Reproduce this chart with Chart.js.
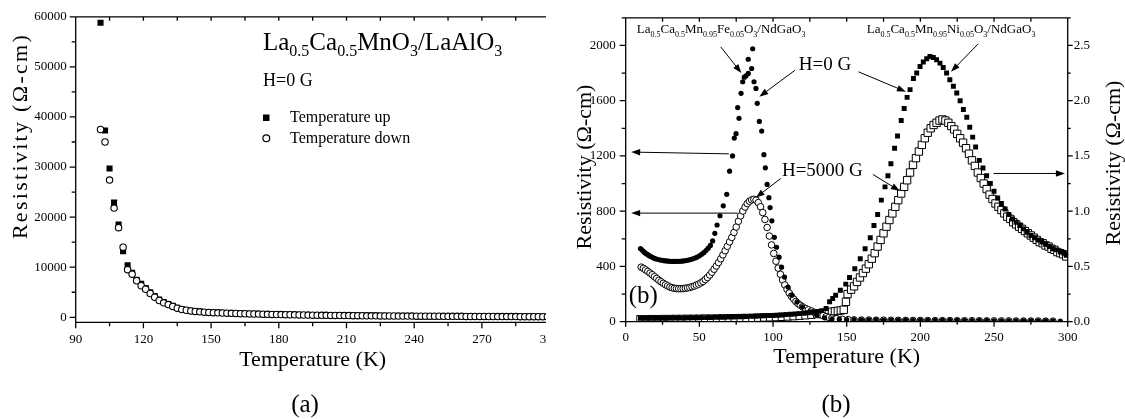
<!DOCTYPE html>
<html>
<head>
<meta charset="utf-8">
<script src="https://cdn.jsdelivr.net/npm/chart.js@4.4.0/dist/chart.umd.min.js"></script>
<style>
  body { margin: 0; background: #fff; width: 1125px; height: 419px; overflow: hidden; position: relative; }
  #wrapA { position: absolute; left: 0; top: 0; width: 546px; height: 419px; overflow: hidden; }
  #wrapB { position: absolute; left: 547px; top: 0; width: 578px; height: 419px; }
  canvas { display: block; }
</style>
</head>
<body>
<div id="wrapA"><canvas id="chartA" width="600" height="419"></canvas></div>
<div id="wrapB"><canvas id="chartB" width="578" height="419"></canvas></div>
<script>
// ---------- (a) La0.5Ca0.5MnO3 / LaAlO3, H = 0 ----------
const tempA = [
  101, 103, 105, 107, 109, 111, 113, 115, 117, 119,
  121, 123, 125, 127, 129, 131, 133, 135, 137, 139,
  141, 143, 145, 147, 149, 151, 153, 155, 157, 159,
  161, 163, 165, 167, 169, 171, 173, 175, 177, 179,
  181, 183, 185, 187, 189, 191, 193, 195, 197, 199,
  201, 203, 205, 207, 209, 211, 213, 215, 217, 219,
  221, 223, 225, 227, 229, 231, 233, 235, 237, 239,
  241, 243, 245, 247, 249, 251, 253, 255, 257, 259,
  261, 263, 265, 267, 269, 271, 273, 275, 277, 279,
  281, 283, 285, 287, 289, 291, 293, 295, 297, 299
];
const rhoUp = [
  58800, 37300, 29700, 22900, 18500, 13200, 10400, 8900, 7500, 6700,
  5850, 5000, 4250, 3550, 3050, 2650, 2280, 1920, 1640, 1470,
  1320, 1220, 1130, 1060, 1000, 955, 915, 880, 845, 810,
  780, 750, 722, 697, 675, 655, 634, 614, 594, 574,
  554, 535, 518, 502, 487, 472, 457, 442, 427, 412,
  401, 391, 380, 370, 360, 350, 340, 330, 320, 310,
  302, 294, 286, 279, 272, 266, 260, 254, 248, 242,
  237, 232, 227, 222, 217, 212, 208, 203, 199, 195,
  190, 186, 182, 178, 174, 170, 165, 161, 157, 153,
  149, 145, 141, 137, 133, 129, 125, 121, 118, 114
];
const rhoDown = [
  37500, 35000, 27400, 21800, 17900, 14000, 9500, 8600, 7300, 6300,
  5600, 4750, 4000, 3350, 2880, 2530, 2170, 1820, 1560, 1410,
  1270, 1180, 1100, 1030, 970, 930, 895, 860, 825, 790,
  760, 730, 705, 680, 660, 640, 620, 600, 580, 560,
  540, 520, 505, 490, 475, 460, 445, 430, 415, 400,
  390, 380, 370, 360, 350, 340, 330, 320, 310, 300,
  292, 285, 277, 270, 264, 258, 252, 246, 240, 235,
  230, 225, 220, 215, 210, 205, 200, 196, 192, 188,
  184, 180, 176, 172, 168, 164, 160, 156, 152, 148,
  144, 140, 136, 132, 128, 124, 120, 117, 114, 110
];
const xTicksA = [90, 120, 150, 180, 210, 240, 270, 300];
const xMinorA = [105, 135, 165, 195, 225, 255, 285];
const yTicksA = [0, 10000, 20000, 30000, 40000, 50000, 60000];
const yMinorA = [5000, 15000, 25000, 35000, 45000, 55000];

// ---------- (b) Fe- and Ni-doped films on NdGaO3 ----------
// Fe-doped, left axis (Ω-cm)
const feT0 = [
  10, 11, 12, 13, 14, 15, 16, 17, 18, 19, 20,
  21.5, 23, 24.5, 26, 27.5, 29, 30.5, 32, 33.5, 35, 36.5, 38, 39.5, 41, 42.5, 44, 45.5, 47, 48.5, 50, 51.5, 53, 54.5, 56, 57.5, 59,
  60.5, 62, 64, 66.2, 68.6, 70.5, 72.5,
  73.7, 74.9, 76, 76.9, 78.3, 79.4, 80.5, 81.7, 83.2, 83.2,
  85.5, 86.2, 87.1, 88.4, 89.3, 90.7, 92.3,
  93.8, 94.8, 96, 97.2, 98, 99.2, 100.9, 102.4, 104.1, 105.8,
  107.8, 110.2, 112.7, 116.3, 120, 124.9, 129.8, 135,
  140, 145, 150, 155, 160, 165, 170, 175, 180, 185, 190, 195, 200, 205, 210, 215,
  220, 225, 230, 235, 240, 245, 250, 255, 260, 265, 270, 275, 280, 285, 290, 295
];
const feRho0 = [
  530, 520, 510, 500, 492, 485, 478, 472, 466, 461, 456,
  452, 448, 445, 442, 440, 438, 437, 436, 436, 437, 437, 438, 440, 443, 446, 450, 455, 461, 468, 477, 488, 500, 515, 532, 552, 585,
  640, 700, 767, 839, 922, 1090, 1200,
  1329, 1361, 1550, 1473, 1653, 1737, 1770, 1780, 1797, 1900,
  1833, 1976, 1737, 1689, 1581, 1450, 1380,
  1209, 1114, 994, 898, 826, 730, 611, 539, 467, 395,
  323, 251, 192, 144, 108, 72, 48, 28,
  21, 18, 16, 15, 14, 13, 13, 12, 12, 11, 11, 10, 10, 10, 9, 9,
  9, 9, 8, 8, 8, 8, 7, 7, 7, 7, 6, 6, 6, 6, 5, 5
];
const feT5 = [
  10.5, 12, 13.5, 15, 16.5, 18, 19.5, 21, 22.5, 24, 25.5, 27, 28.5, 30, 31.5, 33, 34.5, 36, 37.5, 39,
  40.5, 42, 43.5, 45, 46.5, 48, 49.5, 51, 52.5, 54, 55.5, 57, 58.5, 60, 61.5, 63, 64.5, 66, 67.5, 69,
  70.5, 72, 73.5, 75, 76.5, 78, 79.5, 81, 82.5, 84, 85.5, 87, 88.5, 90, 91.5, 93, 94.5, 96, 97.5, 99,
  100.5, 102, 103.5, 105, 106.5, 108, 109.5, 111, 112.5, 114, 115.5, 117, 118.5, 120,
  122, 124, 126, 128, 130, 132, 134, 136, 138, 140, 143, 147, 151,
  155, 160, 165, 170, 175, 180, 185, 190, 195, 200, 205, 210, 215, 220,
  225, 230, 235, 240, 245, 250, 255, 260, 265, 270, 275, 280, 285, 290
];
const feRho5 = [
  395, 386, 375, 364, 352, 340, 326, 313, 300, 289, 278, 268, 259, 251, 246, 242, 240, 239, 239, 240,
  242, 245, 248, 253, 258, 265, 272, 281, 291, 305, 320, 338, 358, 380, 403, 428, 455, 484, 514, 546,
  578, 610, 646, 685, 727, 766, 801, 830, 855, 872, 882, 886, 880, 862, 832, 790, 740, 682, 620, 556,
  494, 438, 388, 343, 302, 266, 235, 208, 184, 164, 146, 131, 119, 108,
  96, 86, 77, 68, 60, 52, 44, 37, 31, 26, 21, 17, 15,
  13, 12, 12, 11, 11, 10, 10, 9, 9, 9, 8, 8, 8, 8,
  7, 7, 7, 7, 6, 6, 6, 6, 5, 5, 5, 5, 4, 4
];
// Ni-doped, right axis (Ω-cm)
const niT0 = [
  10, 13, 16, 19, 22, 25, 28, 31, 34, 37, 40, 43, 46, 49, 52, 55, 58, 61, 64, 67, 70, 73,
  76, 79, 82, 85, 88, 91, 94, 97, 100, 103, 106, 109, 112, 115, 118, 121, 124, 127, 130, 133, 136,
  138.4, 140.5, 142.5, 145.7, 149.4, 151.9, 155.5, 159.2, 162.5, 166,
  168.5, 171, 173.5, 176, 178, 180, 182.5, 184.5, 187, 189,
  191, 193, 195.3, 197.5, 199.8, 202, 204.3, 206.5, 208.8, 211,
  213.3, 215.5, 217.8, 220, 222.4, 224.7, 227, 229.2, 231.5, 233.5,
  235.5, 237.5, 240, 242.5, 245, 247.5, 250, 252.5, 255, 257.5,
  260, 262.5, 265, 267.5, 270, 272.5, 275, 277.5, 280, 282.5,
  285, 287.5, 290, 292.5, 295, 297.5, 299
];
const niRho0 = [
  0.030, 0.030, 0.031, 0.031, 0.031, 0.032, 0.032, 0.033, 0.033, 0.034, 0.034, 0.035, 0.035, 0.036, 0.037, 0.037, 0.038, 0.039, 0.040, 0.041, 0.042, 0.043,
  0.044, 0.045, 0.047, 0.048, 0.050, 0.051, 0.053, 0.055, 0.057, 0.059, 0.061, 0.064, 0.067, 0.070, 0.073, 0.077, 0.081, 0.086, 0.092, 0.100, 0.120,
  0.18, 0.21, 0.24, 0.285, 0.34, 0.40, 0.48, 0.57, 0.66, 0.76,
  0.87, 0.97, 1.10, 1.22, 1.32, 1.43, 1.57, 1.68, 1.82, 1.93,
  2.03, 2.10, 2.20, 2.25, 2.31, 2.35, 2.38, 2.40, 2.39, 2.37,
  2.34, 2.30, 2.25, 2.19, 2.13, 2.07, 2.00, 1.92, 1.85, 1.76,
  1.67, 1.58, 1.46, 1.39, 1.32, 1.25, 1.18, 1.12, 1.07, 1.02,
  0.97, 0.93, 0.90, 0.87, 0.84, 0.81, 0.78, 0.76, 0.74, 0.72,
  0.70, 0.68, 0.66, 0.65, 0.63, 0.62, 0.60
];
const niT5 = [
  10, 14, 18, 22, 26, 30, 34, 38, 42, 46, 50, 54, 58, 62, 66, 70, 74, 78, 82, 86,
  90, 94, 98, 102, 106, 110, 114, 118, 122, 126, 130,
  133, 136, 138, 140, 142, 144, 146, 148, 149.5, 150.6,
  153, 155, 157, 159, 161, 163, 165, 167, 169, 171,
  173, 175, 177, 179, 181, 183, 185, 187, 189, 191,
  193, 195, 197, 199, 201, 203, 205, 207, 209, 211,
  213, 215, 217, 219, 221, 223, 225, 227, 229, 231,
  233, 235, 237, 239, 241, 243, 245, 247, 249, 251,
  253, 255, 257, 259, 261, 263, 265, 267, 269, 271,
  273, 275, 277, 279, 281, 283, 285, 287, 289, 291,
  293, 295, 297, 299
];
const niRho5 = [
  0.022, 0.022, 0.023, 0.023, 0.024, 0.024, 0.025, 0.025, 0.026, 0.026, 0.027, 0.028, 0.028, 0.029, 0.030, 0.031, 0.032, 0.033, 0.034, 0.035,
  0.036, 0.038, 0.040, 0.042, 0.044, 0.047, 0.050, 0.054, 0.058, 0.063, 0.069,
  0.074, 0.080, 0.085, 0.090, 0.094, 0.098, 0.102, 0.108, 0.18, 0.25,
  0.29, 0.32, 0.36, 0.40, 0.44, 0.48, 0.52, 0.57, 0.62, 0.68,
  0.74, 0.80, 0.86, 0.92, 0.98, 1.04, 1.10, 1.16, 1.22, 1.28,
  1.35, 1.42, 1.48, 1.54, 1.60, 1.66, 1.71, 1.75, 1.78, 1.80,
  1.82, 1.83, 1.82, 1.80, 1.77, 1.74, 1.70, 1.66, 1.62, 1.57,
  1.52, 1.46, 1.41, 1.35, 1.30, 1.25, 1.20, 1.15, 1.11, 1.07,
  1.04, 1.01, 0.98, 0.95, 0.93, 0.90, 0.88, 0.86, 0.84, 0.82,
  0.80, 0.78, 0.76, 0.74, 0.72, 0.71, 0.69, 0.68, 0.66, 0.65,
  0.63, 0.62, 0.61, 0.59
];
const xTicksB = [0, 50, 100, 150, 200, 250, 300];
const xMinorB = [25, 75, 125, 175, 225, 275];
const yTicksBL = [0, 400, 800, 1200, 1600, 2000];
const yMinorBL = [200, 600, 1000, 1400, 1800, 2200];
const yTicksBR = [0, 0.5, 1.0, 1.5, 2.0, 2.5];
const yMinorBR = [0.25, 0.75, 1.25, 1.75, 2.25, 2.75];

const SERIF = '"Liberation Serif", "Times New Roman", serif';

const toPoints = (xs, ys) => xs.map((x, i) => ({ x: x, y: ys[i] }));

// writes a chemical formula; parts are [text, isSubscript]
function drawFormula(ctx, parts, x, y, size, subSize, drop) {
  let cx = x;
  parts.forEach(([txt, sub]) => {
    ctx.font = (sub ? subSize : size) + 'px ' + SERIF;
    ctx.fillText(txt, cx, sub ? y + drop : y);
    cx += ctx.measureText(txt).width;
  });
}

function arrow(ctx, x1, y1, x2, y2) {
  const ang = Math.atan2(y2 - y1, x2 - x1);
  const len = 9, half = 3.2;
  ctx.beginPath();
  ctx.moveTo(x1, y1);
  ctx.lineTo(x2 - Math.cos(ang) * len * 0.8, y2 - Math.sin(ang) * len * 0.8);
  ctx.stroke();
  ctx.beginPath();
  ctx.moveTo(x2, y2);
  ctx.lineTo(x2 - Math.cos(ang) * len + Math.sin(ang) * half, y2 - Math.sin(ang) * len - Math.cos(ang) * half);
  ctx.lineTo(x2 - Math.cos(ang) * len - Math.sin(ang) * half, y2 - Math.sin(ang) * len + Math.cos(ang) * half);
  ctx.closePath();
  ctx.fill();
}

// tick marks along a horizontal edge (len > 0 = down) or vertical edge (len > 0 = right)
function hTicks(ctx, scale, vals, yPos, len) {
  vals.forEach(v => {
    const px = scale.getPixelForValue(v);
    ctx.moveTo(px, yPos);
    ctx.lineTo(px, yPos + len);
  });
}
function vTicks(ctx, scale, vals, xPos, len) {
  vals.forEach(v => {
    const py = scale.getPixelForValue(v);
    ctx.moveTo(xPos, py);
    ctx.lineTo(xPos + len, py);
  });
}

function rotatedTitle(ctx, text, cx, cy, spacing) {
  ctx.save();
  ctx.translate(cx, cy);
  ctx.rotate(-Math.PI / 2);
  ctx.font = '22px ' + SERIF;
  ctx.textAlign = 'center';
  ctx.textBaseline = 'middle';
  ctx.letterSpacing = spacing;
  ctx.fillText(text, 0, 0);
  ctx.restore();
}

const tickFont = { family: SERIF, size: 13 };

// ---------- panel (a) ----------
const frameA = {
  id: 'frameA',
  afterDraw(chart) {
    const { ctx, chartArea: ca, scales: { x, y } } = chart;
    ctx.save();
    ctx.strokeStyle = '#000';
    ctx.fillStyle = '#000';
    ctx.lineWidth = 1.3;
    ctx.beginPath();
    ctx.moveTo(ca.right, ca.top);
    ctx.lineTo(ca.left, ca.top);
    ctx.lineTo(ca.left, ca.bottom);
    ctx.lineTo(ca.right, ca.bottom);
    hTicks(ctx, x, xTicksA, ca.bottom, 6);
    hTicks(ctx, x, xMinorA, ca.bottom, 4);
    hTicks(ctx, x, xTicksA.concat(xMinorA), ca.top, 4);
    vTicks(ctx, y, yTicksA, ca.left, -6);
    vTicks(ctx, y, yMinorA, ca.left, -4);
    ctx.stroke();

    // formula, field and legend
    ctx.textAlign = 'left';
    ctx.textBaseline = 'alphabetic';
    drawFormula(ctx, [['La', 0], ['0.5', 1], ['Ca', 0], ['0.5', 1], ['MnO', 0], ['3', 1], ['/LaAlO', 0], ['3', 1]],
      263, 50, 25, 16, 6);
    ctx.font = '18px ' + SERIF;
    ctx.fillText('H=0 G', 263, 86);
    ctx.font = '16px ' + SERIF;
    ctx.fillText('Temperature up', 290, 122);
    ctx.fillText('Temperature down', 290, 143);
    ctx.fillRect(263, 114.5, 6.5, 6.5);
    ctx.beginPath();
    ctx.lineWidth = 1.2;
    ctx.arc(266.3, 138.3, 3.4, 0, Math.PI * 2);
    ctx.stroke();

    // axis titles and caption
    ctx.font = '22px ' + SERIF;
    ctx.textAlign = 'center';
    ctx.fillText('Temperature (K)', (ca.left + ca.right) / 2, 366);
    ctx.font = '25px ' + SERIF;
    ctx.fillText('(a)', 305, 412);
    rotatedTitle(ctx, 'Resistivity (\u03A9-cm)', 21, 136, '2.3px');
    ctx.restore();
  }
};

new Chart(document.getElementById('chartA'), {
  type: 'scatter',
  data: {
    datasets: [
      {
        label: 'Temperature up',
        data: toPoints(tempA, rhoUp),
        pointStyle: 'rect',
        pointRadius: 4.3,
        backgroundColor: '#000',
        borderColor: '#000',
        borderWidth: 0,
        order: 1
      },
      {
        label: 'Temperature down',
        data: toPoints(tempA, rhoDown),
        pointStyle: 'circle',
        pointRadius: 3.2,
        backgroundColor: '#fff',
        borderColor: '#000',
        borderWidth: 1.1,
        order: 0
      }
    ]
  },
  options: {
    responsive: false,
    animation: false,
    events: [],
    layout: { padding: { top: 15, right: 50.4, left: 0, bottom: 0 } },
    plugins: { legend: { display: false }, tooltip: { enabled: false } },
    scales: {
      x: {
        type: 'linear', min: 90, max: 300,
        afterFit: s => { s.height = 96.7; },
        afterBuildTicks: s => { s.ticks = xTicksA.map(v => ({ value: v })); },
        grid: { display: false, drawTicks: false },
        border: { display: false },
        ticks: { padding: 9, font: tickFont, color: '#000', autoSkip: false, maxRotation: 0 }
      },
      y: {
        type: 'linear', min: -1000, max: 60000,
        afterFit: s => { s.width = 75.7; },
        afterBuildTicks: s => { s.ticks = yTicksA.map(v => ({ value: v })); },
        grid: { display: false, drawTicks: false },
        border: { display: false },
        ticks: { padding: 9, font: tickFont, color: '#000', autoSkip: false, callback: v => String(v) }
      }
    }
  },
  plugins: [frameA]
});

// ---------- panel (b) ----------
// arrows as [fromT, fromRho, toT, toRho] in left-axis units
const arrowsB = [
  [64.5, 1990, 78.5, 1800],
  [115, 1821, 90.7, 1629],
  [158, 1809, 190.2, 1665],
  [239.3, 2012, 220.8, 1809],
  [70, 1215, 3.7, 1228],
  [76, 786, 3.7, 786],
  [105.3, 1037, 88.2, 898],
  [167.8, 1066, 186.1, 946],
  [249.6, 1073, 298.1, 1073]
];

const frameB = {
  id: 'frameB',
  afterDraw(chart) {
    const { ctx, chartArea: ca, scales: { x, yL, yR } } = chart;
    ctx.save();
    ctx.strokeStyle = '#000';
    ctx.fillStyle = '#000';
    ctx.lineWidth = 1.3;
    ctx.beginPath();
    ctx.rect(ca.left, ca.top, ca.right - ca.left, ca.bottom - ca.top);
    hTicks(ctx, x, xTicksB, ca.bottom, 5);
    hTicks(ctx, x, xMinorB, ca.bottom, 3);
    hTicks(ctx, x, xTicksB.concat(xMinorB), ca.top, 4);
    vTicks(ctx, yL, yTicksBL, ca.left, -6);
    vTicks(ctx, yL, yMinorBL, ca.left, -4);
    vTicks(ctx, yR, yTicksBR, ca.right, 5);
    vTicks(ctx, yR, yMinorBR, ca.right, 3);
    ctx.stroke();

    ctx.lineWidth = 1;
    arrowsB.forEach(a => arrow(ctx, x.getPixelForValue(a[0]), yL.getPixelForValue(a[1]),
      x.getPixelForValue(a[2]), yL.getPixelForValue(a[3])));

    ctx.textAlign = 'left';
    ctx.textBaseline = 'alphabetic';
    drawFormula(ctx, [['La', 0], ['0.5', 1], ['Ca', 0], ['0.5', 1], ['Mn', 0], ['0.95', 1], ['Fe', 0], ['0.05', 1], ['O', 0], ['3', 1], ['/NdGaO', 0], ['3', 1]],
      x.getPixelForValue(7.5), 33, 13, 8, 4);
    drawFormula(ctx, [['La', 0], ['0.5', 1], ['Ca', 0], ['0.5', 1], ['Mn', 0], ['0.95', 1], ['Ni', 0], ['0.05', 1], ['O', 0], ['3', 1], ['/NdGaO', 0], ['3', 1]],
      x.getPixelForValue(163.6), 33, 13, 8, 4);

    ctx.font = '19px ' + SERIF;
    ctx.textAlign = 'center';
    ctx.fillText('H=0 G', x.getPixelForValue(135.3), yL.getPixelForValue(1823));
    ctx.fillText('H=5000 G', x.getPixelForValue(133.5), yL.getPixelForValue(1052));
    ctx.font = '25px ' + SERIF;
    ctx.textAlign = 'left';
    ctx.fillText('(b)', ca.left + 3, ca.bottom - 19);

    ctx.font = '22px ' + SERIF;
    ctx.textAlign = 'center';
    ctx.fillText('Temperature (K)', (ca.left + ca.right) / 2, 363);
    ctx.font = '25px ' + SERIF;
    ctx.fillText('(b)', 289, 412);
    rotatedTitle(ctx, 'Resistivity (\u03A9-cm)', 38, 167, '0px');
    rotatedTitle(ctx, 'Resistivity (\u03A9-cm)', 567, 163, '0px');
    ctx.restore();
  }
};

new Chart(document.getElementById('chartB'), {
  type: 'scatter',
  data: {
    datasets: [
      {
        label: 'Ni 0.05, H = 0',
        data: toPoints(niT0, niRho0),
        yAxisID: 'yR',
        pointStyle: 'rect',
        pointRadius: 3.5,
        backgroundColor: '#000',
        borderColor: '#000',
        borderWidth: 0,
        order: 0
      },
      {
        label: 'Fe 0.05, H = 0',
        data: toPoints(feT0, feRho0),
        yAxisID: 'yL',
        pointStyle: 'circle',
        pointRadius: 2.6,
        backgroundColor: '#000',
        borderColor: '#000',
        borderWidth: 0,
        order: 1
      },
      {
        label: 'Fe 0.05, H = 5000 G',
        data: toPoints(feT5, feRho5),
        yAxisID: 'yL',
        pointStyle: 'circle',
        pointRadius: 3.3,
        backgroundColor: '#fff',
        borderColor: '#000',
        borderWidth: 1,
        order: 2
      },
      {
        label: 'Ni 0.05, H = 5000 G',
        data: toPoints(niT5, niRho5),
        yAxisID: 'yR',
        pointStyle: 'rect',
        pointRadius: 5.2,
        backgroundColor: '#fff',
        borderColor: '#000',
        borderWidth: 1,
        order: 3
      }
    ]
  },
  options: {
    responsive: false,
    animation: false,
    events: [],
    layout: { padding: { top: 15.7, right: 0, left: 0, bottom: 0 } },
    plugins: { legend: { display: false }, tooltip: { enabled: false } },
    scales: {
      x: {
        type: 'linear', min: 0, max: 300,
        afterFit: s => { s.height = 97.3; },
        afterBuildTicks: s => { s.ticks = xTicksB.map(v => ({ value: v })); },
        grid: { display: false, drawTicks: false },
        border: { display: false },
        ticks: { padding: 8, font: tickFont, color: '#000', autoSkip: false, maxRotation: 0 }
      },
      yL: {
        type: 'linear', position: 'left', min: 0, max: 2200,
        afterFit: s => { s.width = 78.7; },
        afterBuildTicks: s => { s.ticks = yTicksBL.map(v => ({ value: v })); },
        grid: { display: false, drawTicks: false },
        border: { display: false },
        ticks: { padding: 10, font: tickFont, color: '#000', autoSkip: false, callback: v => String(v) }
      },
      yR: {
        type: 'linear', position: 'right', min: 0, max: 2.75,
        afterFit: s => { s.width = 57.3; },
        afterBuildTicks: s => { s.ticks = yTicksBR.map(v => ({ value: v })); },
        grid: { display: false, drawTicks: false },
        border: { display: false },
        ticks: { padding: 6, font: tickFont, color: '#000', autoSkip: false, callback: v => v.toFixed(1) }
      }
    }
  },
  plugins: [frameB]
});
</script>
</body>
</html>
